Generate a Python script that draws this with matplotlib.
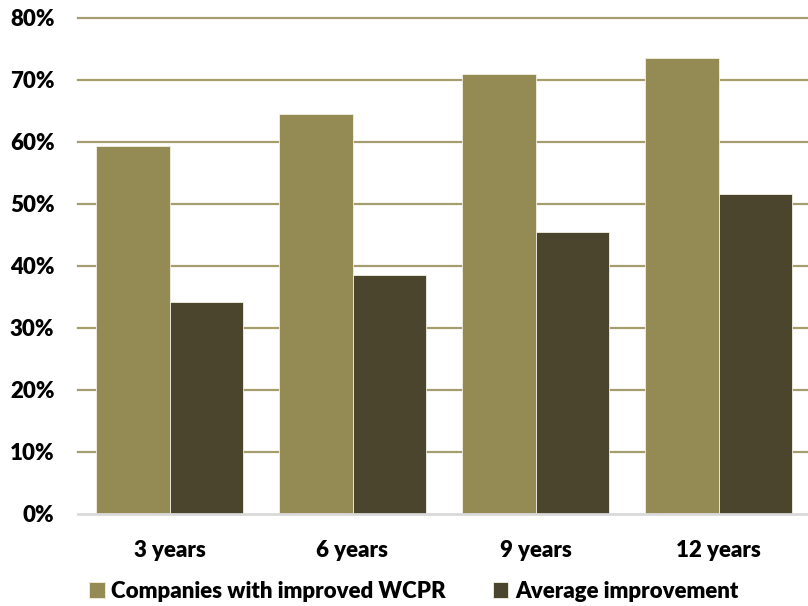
import matplotlib.pyplot as plt
import numpy as np

# data
periods = ['3 years', '6 years', '9 years', '12 years']
improved_share = [59.4, 64.5, 71.0, 73.5]
avg_improvement = [34.2, 38.5, 45.5, 51.6]
series_names = ['Companies with improved WCPR', 'Average improvement']
y_ticks = [0, 10, 20, 30, 40, 50, 60, 70, 80]

light = '#948A54'
dark = '#4A452C'

plt.rcParams['font.family'] = ['Lato', 'DejaVu Sans']
plt.rcParams['font.weight'] = 'heavy'

fig = plt.figure(figsize=(8.08, 6.06), dpi=100)
ax = fig.add_axes([78 / 808, 1 - 514 / 606, 732 / 808, (514 - 18) / 606])

x = np.arange(len(periods))
w = 0.4
ax.bar(x - w / 2, improved_share, w, color=light, edgecolor='#F4F1E4', linewidth=0.6,
       label=series_names[0], zorder=3)
ax.bar(x + w / 2, avg_improvement, w, color=dark, edgecolor='#F4F1E4', linewidth=0.6,
       label=series_names[1], zorder=3)

ax.set_xlim(-0.5, len(periods) - 0.5)
ax.set_ylim(0, 80)
ax.set_yticks(y_ticks)
ax.set_yticklabels([f'{t}%' for t in y_ticks])
ax.set_xticks(x)
ax.set_xticklabels(periods)

# gridlines (0% line is drawn grey like the axis)
for t in y_ticks[1:]:
    ax.axhline(t, color='#A59D6E', linewidth=1.6, zorder=1, clip_on=False)
ax.axhline(0, color='#D9D9D9', linewidth=2, zorder=4, clip_on=False)

for s in ax.spines.values():
    s.set_visible(False)
ax.tick_params(axis='y', length=0, pad=17, labelsize=16)
ax.tick_params(axis='x', length=0, pad=19, labelsize=16)

fig.legend(loc='lower center', bbox_to_anchor=(0.512, -0.026), ncol=2, frameon=False,
           fontsize=16, handlelength=0.7, handleheight=0.7, handletextpad=0.3,
           columnspacing=2.1)

fig.savefig('out.png', dpi=100)
